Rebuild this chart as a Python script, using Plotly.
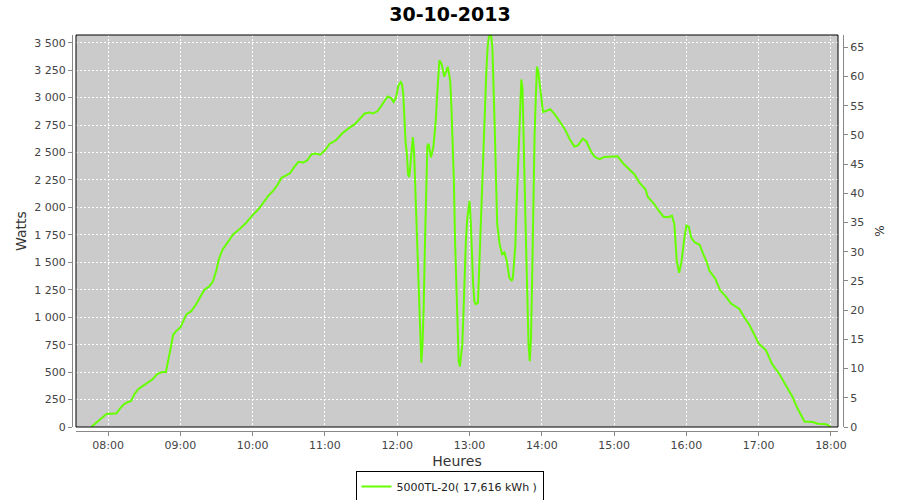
import plotly.graph_objects as go

DAY = "2013-10-30 "
TITLE = "30-10-2013"
SERIES_NAME = "5000TL-20( 17,616 kWh )"
PEAK_W = 5320  # watts corresponding to 100 %

times = [
    "07:46", "07:50", "07:55", "07:59", "08:03", "08:07", "08:10", "08:13", "08:16", "08:19",
    "08:22", "08:25", "08:29", "08:33", "08:37", "08:41", "08:45", "08:48", "08:50", "08:52",
    "08:54", "08:57", "09:00", "09:02", "09:05", "09:09", "09:13", "09:16", "09:20", "09:24",
    "09:27", "09:30", "09:32", "09:35", "09:39", "09:44", "09:49", "09:55", "10:00", "10:05",
    "10:09", "10:13", "10:17", "10:21", "10:24", "10:28", "10:31", "10:34", "10:38", "10:42",
    "10:45", "10:49", "10:52", "10:56", "11:00", "11:04", "11:09", "11:14", "11:19", "11:25",
    "11:29", "11:33", "11:37", "11:40", "11:44", "11:48", "11:52", "11:55", "11:57", "11:59",
    "12:01", "12:03", "12:04", "12:05", "12:06", "12:07", "12:08", "12:09", "12:10", "12:11",
    "12:13", "12:14", "12:15", "12:16", "12:17", "12:18", "12:19", "12:20", "12:21", "12:22",
    "12:23", "12:24", "12:25", "12:26", "12:28", "12:30", "12:32", "12:33", "12:35", "12:37",
    "12:39", "12:42", "12:44", "12:45", "12:46", "12:47", "12:48", "12:49", "12:50", "12:51",
    "12:52", "12:53", "12:54", "12:55", "12:56", "12:57", "12:58", "12:59", "13:00", "13:01",
    "13:02", "13:03", "13:04", "13:05", "13:07", "13:08", "13:09", "13:10", "13:11", "13:12",
    "13:13", "13:14", "13:15", "13:16", "13:17", "13:18", "13:19", "13:20", "13:21", "13:22",
    "13:23", "13:25", "13:27", "13:29", "13:31", "13:33", "13:35", "13:36", "13:37", "13:38",
    "13:39", "13:40", "13:41", "13:42", "13:43", "13:44", "13:45", "13:46", "13:47", "13:48",
    "13:49", "13:50", "13:51", "13:52", "13:53", "13:54", "13:55", "13:56", "13:57", "13:58",
    "13:59", "14:01", "14:04", "14:07", "14:11", "14:15", "14:19", "14:23", "14:27", "14:30",
    "14:34", "14:37", "14:41", "14:44", "14:48", "14:52", "14:57", "15:03", "15:08", "15:12",
    "15:17", "15:21", "15:26", "15:28", "15:33", "15:37", "15:41", "15:45", "15:48", "15:50",
    "15:51", "15:52", "15:54", "15:56", "15:58", "16:00", "16:02", "16:04", "16:07", "16:11",
    "16:14", "16:17", "16:19", "16:24", "16:28", "16:33", "16:37", "16:44", "16:48", "16:52",
    "16:56", "17:00", "17:06", "17:11", "17:17", "17:22", "17:28", "17:32", "17:38", "17:45",
    "17:49", "17:56", "18:00",
]

watts = [
    0, 35, 80, 120, 120, 125, 170, 205, 225, 235,
    300, 345, 375, 405, 435, 485, 500, 500, 600, 720,
    840, 880, 905, 955, 1025, 1055, 1115, 1175, 1250, 1280,
    1325, 1430, 1530, 1615, 1680, 1755, 1800, 1865, 1930, 1985,
    2045, 2105, 2150, 2210, 2270, 2292, 2310, 2360, 2415, 2410,
    2425, 2485, 2490, 2480, 2520, 2580, 2610, 2670, 2715, 2760,
    2805, 2855, 2865, 2855, 2880, 2950, 3010, 2995, 2960, 3000,
    3110, 3140, 3120, 3035, 2800, 2585, 2490, 2300, 2275, 2420,
    2640, 2500, 2200, 1900, 1580, 1250, 900, 585, 755, 1100,
    1665, 2300, 2560, 2580, 2455, 2550, 2790, 3000, 3340, 3300,
    3190, 3280, 3150, 2910, 2650, 2250, 1700, 1250, 850, 600,
    550, 650, 750, 1040, 1400, 1700, 1880, 1970, 2060, 1880,
    1560, 1300, 1150, 1120, 1130, 1450, 1800, 2050, 2300, 2600,
    2900, 3250, 3450, 3550, 3570, 3560, 3450, 3150, 2700, 2250,
    1850, 1665, 1575, 1590, 1510, 1360, 1330, 1360, 1500, 1650,
    2000, 2330, 2650, 2950, 3165, 3080, 2700, 2100, 1630, 1100,
    750, 600, 800, 1350, 2100, 2650, 3000, 3280, 3240, 3150,
    3020, 2870, 2880, 2895, 2845, 2775, 2715, 2625, 2555, 2565,
    2625, 2600, 2505, 2460, 2440, 2460, 2465, 2465, 2395, 2350,
    2300, 2225, 2165, 2095, 2035, 1970, 1915, 1910, 1925, 1850,
    1665, 1510, 1405, 1510, 1695, 1835, 1825, 1725, 1680, 1660,
    1575, 1500, 1425, 1350, 1245, 1185, 1125, 1075, 1000, 935,
    850, 760, 700, 575, 485, 395, 275, 175, 50, 45,
    30, 25, 0,
]

x_ticks = ["08:00", "09:00", "10:00", "11:00", "12:00", "13:00",
           "14:00", "15:00", "16:00", "17:00", "18:00"]

W_MAX = 3570
PCT_MAX = W_MAX / PEAK_W * 100

xs = [DAY + t for t in times]

FONT = "DejaVu Sans"
TICKC = "#444444"
AXC = "#888888"

FW, FH = 900, 500
ML, MR, MT, MB = 72, 57, 35, 69
PW = FW - ML - MR
PH = FH - MT - MB

fig = go.Figure()
fig.add_trace(go.Scatter(
    x=xs, y=watts, mode="lines", name=SERIES_NAME,
    line=dict(color="#66FF00", width=2),
))
# helper trace for the percent axis
fig.add_trace(go.Scatter(
    x=[xs[0]], y=[0], yaxis="y2", mode="markers", opacity=0,
    showlegend=False, hoverinfo="skip",
))

fig.update_layout(
    width=FW, height=FH,
    paper_bgcolor="white", plot_bgcolor="#CBCBCB",
    margin=dict(l=ML, r=MR, t=MT, b=MB, autoexpand=False),
    separators=", ",
    font=dict(family=FONT, size=11, color=TICKC),
    title=dict(text=TITLE, x=450 / FW, xref="container", xanchor="center",
               y=1 - 14.5 / FH, yref="container", yanchor="middle",
               font=dict(family=FONT, size=19, color="black", weight="bold")),
    xaxis=dict(
        domain=[4 / PW, 1 - 5 / PW], anchor="free", position=0,
        type="date", automargin=False,
        range=[DAY + "07:33:24", DAY + "18:05:50"],
        tickvals=[DAY + t for t in x_ticks], ticktext=x_ticks,
        showgrid=True, gridcolor="white", griddash="2px,2px", gridwidth=1,
        showline=True, linecolor=AXC, linewidth=1,
        ticks="outside", ticklen=4, tickcolor=AXC,
        tickfont=dict(family=FONT, size=11, color=TICKC),
        title=dict(text="Heures", standoff=4,
                   font=dict(family=FONT, size=14, color="#333333")),
        zeroline=False,
    ),
    yaxis=dict(
        domain=[4 / PH, 1], anchor="free", position=0, automargin=False,
        range=[0, W_MAX], dtick=250, tick0=0, tickformat=",d",
        showgrid=True, gridcolor="white", griddash="2px,2px", gridwidth=1,
        showline=True, linecolor=AXC, linewidth=1,
        ticks="outside", ticklen=4, tickcolor=AXC,
        tickfont=dict(family=FONT, size=11, color=TICKC),
        title=dict(text="Watts", standoff=3,
                   font=dict(family=FONT, size=14, color="#333333")),
        zeroline=False,
    ),
    yaxis2=dict(
        overlaying="y", side="right", anchor="free", position=1,
        automargin=False,
        range=[0, PCT_MAX], dtick=5, tick0=0,
        showgrid=False,
        showline=True, linecolor=AXC, linewidth=1,
        ticks="outside", ticklen=4, tickcolor=AXC,
        tickfont=dict(family=FONT, size=11, color=TICKC),
        title=dict(text="%", standoff=12,
                   font=dict(family=FONT, size=12, color="#333333")),
        zeroline=False,
    ),
    legend=dict(
        orientation="h", x=(449.5 - ML) / PW, xanchor="center",
        y=((FH - MB) - 471) / PH, yanchor="top",
        bordercolor="black", borderwidth=1, bgcolor="white",
        font=dict(family=FONT, size=11, color="#222222"),
        itemwidth=30,
    ),
    shapes=[dict(type="rect", xref="x domain", yref="y domain",
                 x0=0, x1=1, y0=0, y1=1,
                 line=dict(color="black", width=1), layer="above")],
    showlegend=True,
)

fig.write_html("out.html", config={"displayModeBar": False},
               post_script="document.body.style.margin='0px';")
